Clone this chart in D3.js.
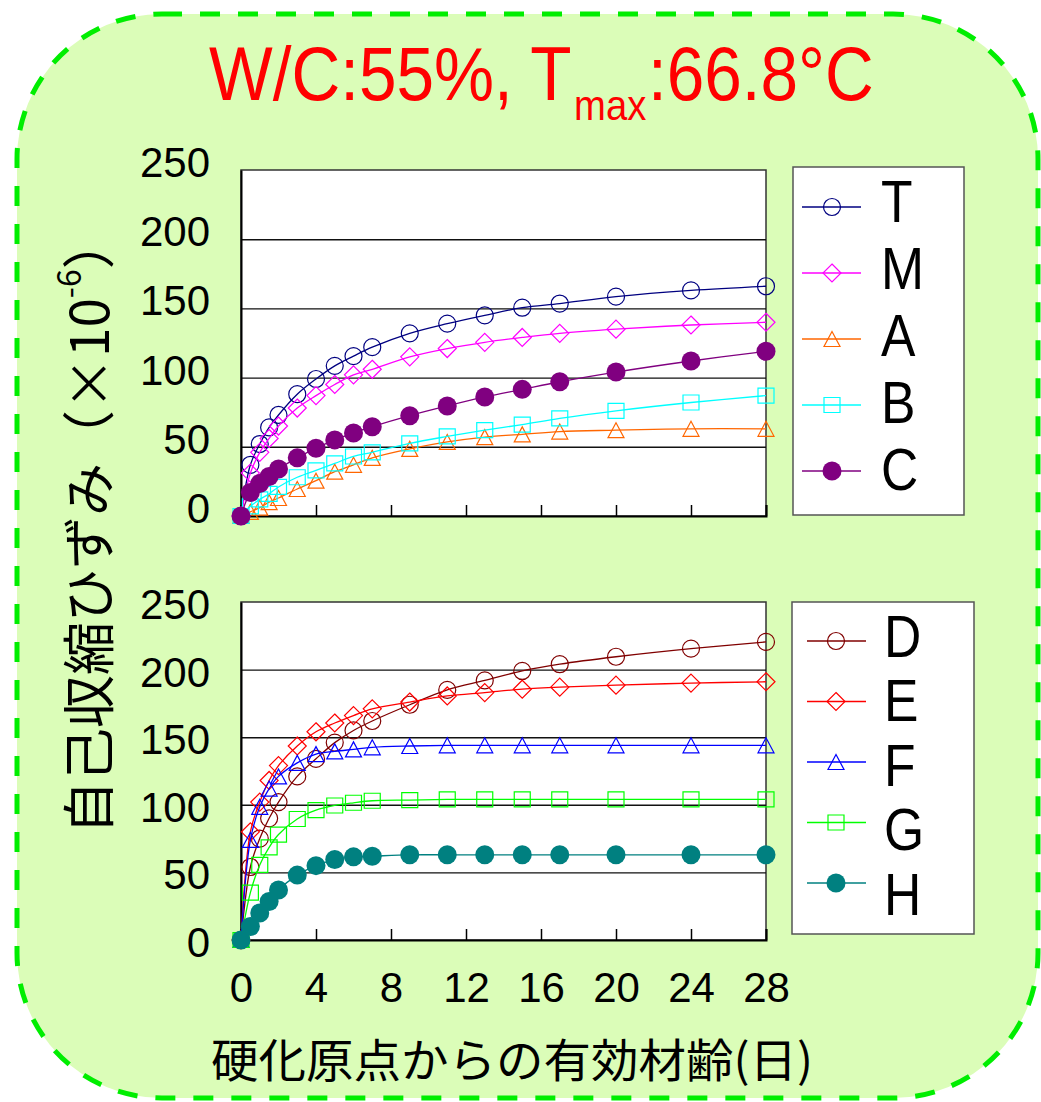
<!DOCTYPE html>
<html>
<head>
<meta charset="utf-8">
<script src="https://cdnjs.cloudflare.com/ajax/libs/d3/7.8.5/d3.min.js"></script>
<style>
  body { margin: 0; background: #fff; }
  svg { display: block; }
</style>
</head>
<body>
<div id="chart"></div>
<script>
// 有効材齢(日)
var days = [0, 0.5, 1, 1.5, 2, 3, 4, 5, 6, 7, 9, 11, 13, 15, 17, 20, 24, 28];

// 上段
var T = [0, 37, 52, 64, 73, 88, 99, 108.5, 115.5, 122, 132, 139, 145, 150.5, 153.5, 158.5, 163, 166];
var M = [0, 31, 46, 56, 65, 78, 87, 95, 102, 106, 115, 121, 125.5, 129, 132, 135, 138, 140];
var A = [0, 3, 6, 10, 13, 19.5, 25.5, 32, 37, 42, 48.5, 53.5, 57, 59, 61, 62, 63, 63];
var B = [0, 7, 12, 16, 21, 28, 33, 38, 43, 46, 52.5, 57.5, 62, 66, 70.5, 76, 82, 87];
var C = [0, 17, 23.5, 28.5, 34, 42, 49, 55, 60, 64.5, 72.5, 79.5, 86, 91.5, 97, 104, 112, 119];
// 下段
var D = [0, 54, 75, 90, 102, 121, 134, 146, 155, 162, 174, 185, 192, 199, 204, 209.5, 215.5, 220.5];
var E = [0, 80, 102, 118, 129, 143.5, 154, 160.5, 166, 171, 176, 180.5, 183, 185.5, 187, 188.5, 190, 191];
var F = [0, 74, 98.5, 112, 121, 131, 137.5, 139.5, 141, 142.5, 143.5, 144, 144, 144, 144, 144, 144, 144];
var G = [0, 35, 55.5, 68.5, 78, 89.5, 96, 99.5, 101.5, 103, 103.5, 104, 104, 104, 104, 104, 104, 104];
var H = [0, 10, 20, 28.5, 37, 48, 55, 59.5, 61.5, 62, 63, 63, 63, 63, 63, 63, 63, 63];

var yTicks = [0, 50, 100, 150, 200, 250];
var xTicks = [0, 4, 8, 12, 16, 20, 24, 28];

var topSeries = [
    {name: "T", values: T, color: "#000080", shape: "circle"},
    {name: "M", values: M, color: "#ff00ff", shape: "diamond"},
    {name: "A", values: A, color: "#ff6600", shape: "triangle"},
    {name: "B", values: B, color: "#00ffff", shape: "square"},
    {name: "C", values: C, color: "#800080", shape: "dot"}
];
var bottomSeries = [
    {name: "D", values: D, color: "#800000", shape: "circle"},
    {name: "E", values: E, color: "#ff0000", shape: "diamond"},
    {name: "F", values: F, color: "#0000ff", shape: "triangle"},
    {name: "G", values: G, color: "#00ff00", shape: "square"},
    {name: "H", values: H, color: "#008080", shape: "dot"}
];

var latin = "'Liberation Sans', Arial, sans-serif",
    cjk = "'Noto Sans CJK JP', sans-serif";

var svg = d3.select("#chart").append("svg")
    .attr("width", 1041)
    .attr("height", 1102);

// 背景の角丸パネル
svg.append("rect")
    .attr("x", 17).attr("y", 14)
    .attr("width", 1021).attr("height", 1084)
    .attr("rx", 145).attr("ry", 145)
    .attr("fill", "#dbfdb8")
    .attr("stroke", "#00ee00")
    .attr("stroke-width", 5)
    .attr("stroke-dasharray", "20,18");

// タイトル (横に詰めたフォント)
var title = svg.append("text")
    .attr("transform", "translate(209,100) scale(0.888,1)")
    .attr("font-family", latin)
    .attr("font-size", 76)
    .attr("fill", "#ff0000");
title.append("tspan").text("W/C:55%, T");
title.append("tspan").attr("font-size", 43).attr("dx", 3).attr("dy", 20).text("max");
title.append("tspan").attr("dx", 2).attr("dy", -20).text(":66.8°C");

var x = d3.scaleLinear().domain([0, 28]).range([241, 766]);

function markerPath(shape) {
    if (shape === "diamond") return "M0,-9L9,0L0,9L-9,0Z";
    if (shape === "triangle") return "M0,-7.5L8,7.5L-8,7.5Z";
    if (shape === "square") return "M-8,-7.5h16v15h-16Z";
    return null;
}

function drawMarker(sel, s) {
    if (s.shape === "circle" || s.shape === "dot") {
        sel.append("circle")
            .attr("r", s.shape === "dot" ? 9.5 : 8.5)
            .attr("fill", s.shape === "dot" ? s.color : "none")
            .attr("stroke", s.color)
            .attr("stroke-width", s.shape === "dot" ? 0 : 1.2);
    } else {
        sel.append("path")
            .attr("d", markerPath(s.shape))
            .attr("fill", "none")
            .attr("stroke", s.color)
            .attr("stroke-width", 1.2);
    }
}

var panels = [
    {series: topSeries, y0: 516, y1: 170, labelDy: -7, xLabels: false,
     box: [793, 167, 964, 515], rowY: 207, step: 66, markX: 832, lineX: [802, 861],
     labelX: 881, labelY: 221.5, labelStep: 67},
    {series: bottomSeries, y0: 940, y1: 602, labelDy: 3, xLabels: true,
     box: [792, 602, 974, 934], rowY: 641, step: 60.5, markX: 836, lineX: [807, 866],
     labelX: 884, labelY: 656.5, labelStep: 64.5}
];

panels.forEach(function (p) {
    var y = d3.scaleLinear().domain([0, 250]).range([p.y0, p.y1]);
    var g = svg.append("g");

    // プロットエリア
    g.append("rect")
        .attr("x", x(0)).attr("y", y(250))
        .attr("width", x(28) - x(0)).attr("height", y(0) - y(250))
        .attr("fill", "#fff")
        .attr("stroke", "#333")
        .attr("stroke-width", 1.5);

    // 目盛線
    g.append("g")
        .attr("transform", "translate(" + x(0) + ",0)")
        .call(d3.axisLeft(y).tickValues(yTicks.slice(1, -1)).tickSize(-(x(28) - x(0))).tickFormat(""))
        .call(function (a) { a.select(".domain").remove(); })
        .selectAll("line")
        .attr("stroke", "#111")
        .attr("stroke-width", 1.4);

    // x軸
    var xa = g.append("g")
        .attr("transform", "translate(0," + y(0) + ")")
        .call(d3.axisBottom(x).tickValues(xTicks).tickSize(-11).tickPadding(32)
            .tickFormat(p.xLabels ? d3.format("d") : ""));
    xa.select(".domain").attr("stroke", "#000").attr("stroke-width", 2);
    xa.selectAll("line").attr("stroke", "#000").attr("stroke-width", 1.5);
    xa.selectAll("text")
        .attr("font-family", latin)
        .attr("font-size", 42)
        .attr("fill", "#000");

    // y軸
    var ya = g.append("g")
        .attr("transform", "translate(" + x(0) + ",0)")
        .call(d3.axisLeft(y).tickValues(yTicks).tickSize(0).tickPadding(31));
    ya.select(".domain").attr("stroke", "#000").attr("stroke-width", 2);
    ya.selectAll("text")
        .attr("font-family", latin)
        .attr("font-size", 42)
        .attr("fill", "#000")
        .attr("dy", (p.labelDy / 42 + 0.32) + "em");

    var line = d3.line()
        .x(function (d, i) { return x(days[i]); })
        .y(function (d) { return y(d); })
        .curve(d3.curveCatmullRom.alpha(0.5));

    p.series.forEach(function (s) {
        var sg = g.append("g");
        sg.append("path")
            .attr("d", line(s.values))
            .attr("fill", "none")
            .attr("stroke", s.color)
            .attr("stroke-width", 1.3);
        sg.selectAll("g.mk")
            .data(s.values)
            .enter().append("g")
            .attr("class", "mk")
            .attr("transform", function (d, i) {
                return "translate(" + x(days[i]) + "," + y(d) + ")";
            })
            .each(function () { drawMarker(d3.select(this), s); });
    });

    // 凡例
    var lg = svg.append("g");
    lg.append("rect")
        .attr("x", p.box[0]).attr("y", p.box[1])
        .attr("width", p.box[2] - p.box[0]).attr("height", p.box[3] - p.box[1])
        .attr("fill", "#fff")
        .attr("stroke", "#555")
        .attr("stroke-width", 1.5);

    var rows = lg.selectAll("g.row")
        .data(p.series)
        .enter().append("g")
        .attr("class", "row");
    rows.each(function (s, i) {
        var r = d3.select(this);
        var ry = p.rowY + i * p.step;
        r.append("line")
            .attr("x1", p.lineX[0]).attr("x2", p.lineX[1])
            .attr("y1", ry).attr("y2", ry)
            .attr("stroke", s.color)
            .attr("stroke-width", 1.5);
        drawMarker(r.append("g").attr("transform", "translate(" + p.markX + "," + ry + ")"), s);
        r.append("text")
            .attr("x", p.labelX)
            .attr("y", p.labelY + i * p.labelStep)
            .attr("font-family", latin)
            .attr("font-size", 60)
            .attr("fill", "#000")
            .text(s.name)
            .each(function () {
                var w = this.getComputedTextLength();
                d3.select(this).attr("textLength", w * 0.86).attr("lengthAdjust", "spacingAndGlyphs");
            });
    });
});

// 縦軸タイトル
var yt = svg.append("text")
    .attr("transform", "translate(86,834) rotate(-90)")
    .attr("font-family", cjk)
    .attr("font-size", 53)
    .attr("fill", "#000")
    .attr("dominant-baseline", "central");
yt.append("tspan").text("自己収縮ひずみ（×10");
yt.append("tspan").attr("font-size", 32).attr("dy", -19).text("-6");
yt.append("tspan").attr("dy", 19).text("）");

// 横軸タイトル
svg.append("text")
    .attr("x", 512)
    .attr("y", 1057)
    .attr("text-anchor", "middle")
    .attr("dominant-baseline", "central")
    .attr("font-family", cjk)
    .attr("font-size", 46)
    .attr("textLength", 602)
    .attr("lengthAdjust", "spacingAndGlyphs")
    .attr("fill", "#000")
    .text("硬化原点からの有効材齢(日)");
</script>
</body>
</html>
